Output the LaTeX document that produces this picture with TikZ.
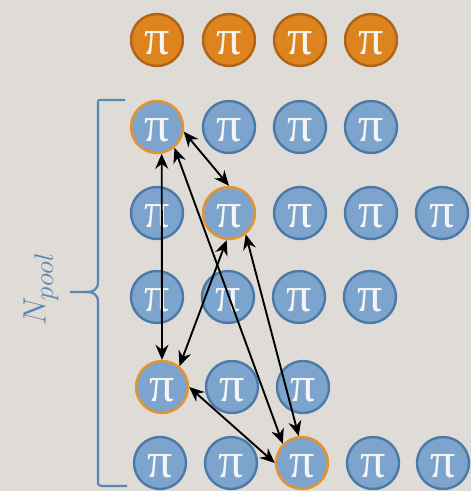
\documentclass[tikz,border=0pt]{standalone}
\usepackage{graphicx}
\usepackage{fontspec}
\newfontfamily\pifont{Liberation Serif}
\usetikzlibrary{arrows.meta}
\definecolor{bg}{HTML}{DFDCD7}
\definecolor{piblue}{HTML}{7DA4CD}
\definecolor{blueedge}{HTML}{4C79A8}
\definecolor{piorange}{HTML}{DE841F}
\definecolor{orangeedge}{HTML}{AE6319}
\definecolor{ringorange}{HTML}{E8922C}
\definecolor{piwhite}{HTML}{F5F5F5}
\definecolor{braceblue}{HTML}{5A86B3}
\begin{document}
\begin{tikzpicture}[x=1pt,y=-1pt,
  pinode/.style={circle, minimum size=52pt, inner sep=0pt, line width=2.4pt, text=piwhite, font=\pifont\fontsize{50}{50}\selectfont, text height=28pt, text depth=0pt},
  bluenode/.style={pinode, fill=piblue, draw=blueedge},
  orangenode/.style={pinode, fill=piorange, draw=orangeedge},
  chosen/.style={pinode, fill=piblue, draw=ringorange},
  link/.style={line width=1.9pt, {Stealth[length=15pt,width=13pt]}-{Stealth[length=15pt,width=13pt]}},
  bracestyle/.style={draw=braceblue, line width=2.2pt, line join=round}]
\useasboundingbox (0,0) rectangle (471,491);
\fill[bg] (0,0) rectangle (471,491);
% top row
\node[orangenode] (t1) at (157,40) {π};
\node[orangenode] (t2) at (229,40) {π};
\node[orangenode] (t3) at (300,40) {π};
\node[orangenode] (t4) at (371,40) {π};
% row 1
\node[chosen] (a1) at (157,127) {π};
\node[bluenode] (a2) at (229,127) {π};
\node[bluenode] (a3) at (300,127) {π};
\node[bluenode] (a4) at (371,127) {π};
% row 2
\node[bluenode] (b1) at (157,213) {π};
\node[chosen] (b2) at (229,213) {π};
\node[bluenode] (b3) at (300,213) {π};
\node[bluenode] (b4) at (371,213) {π};
\node[bluenode] (b5) at (442,213) {π};
% row 3
\node[bluenode] (c1) at (157,297) {π};
\node[bluenode] (c2) at (228,297) {π};
\node[bluenode] (c3) at (299,297) {π};
\node[bluenode] (c4) at (370,297) {π};
% row 4
\node[chosen] (d1) at (162,387) {π};
\node[bluenode] (d2) at (232,387) {π};
\node[bluenode] (d3) at (303,387) {π};
% row 5
\node[bluenode] (e1) at (160,463) {π};
\node[bluenode] (e2) at (231,463) {π};
\node[chosen] (e3) at (302,463) {π};
\node[bluenode] (e4) at (373,463) {π};
\node[bluenode] (e5) at (443,463) {π};
% links
\draw[link] (a1.-10) -- (b2.north);
\draw[link] (a1.-80) -- (d1.north);
\draw[link] (a1.-50) -- (e3.135);
\draw[link] (b2.-95) -- (d1.50);
\draw[link] (b2.-52) -- (e3.97);
\draw[link] (d1.east) -- (e3.west);
% brace
\coordinate (bt) at (125,100);
\coordinate (bb) at (127,486);
\coordinate (tip) at (70,292);
\draw[bracestyle] (bt) -- (102,100) .. controls (98,100) .. (98,104) -- (98,282)
  .. controls (98,290) and (93,292) .. (86,292) -- (tip);
\draw[bracestyle] (86,292) .. controls (93,292) and (98,294) .. (98,302) -- (98,481)
  .. controls (98,485) .. (102,486) -- (bb);
\node[text=braceblue, rotate=90, inner sep=0pt] (lab) at (41,289) {\scalebox{1.3}{\fontsize{24.88}{25}\selectfont $N_{pool}$}};
\end{tikzpicture}
\end{document}
